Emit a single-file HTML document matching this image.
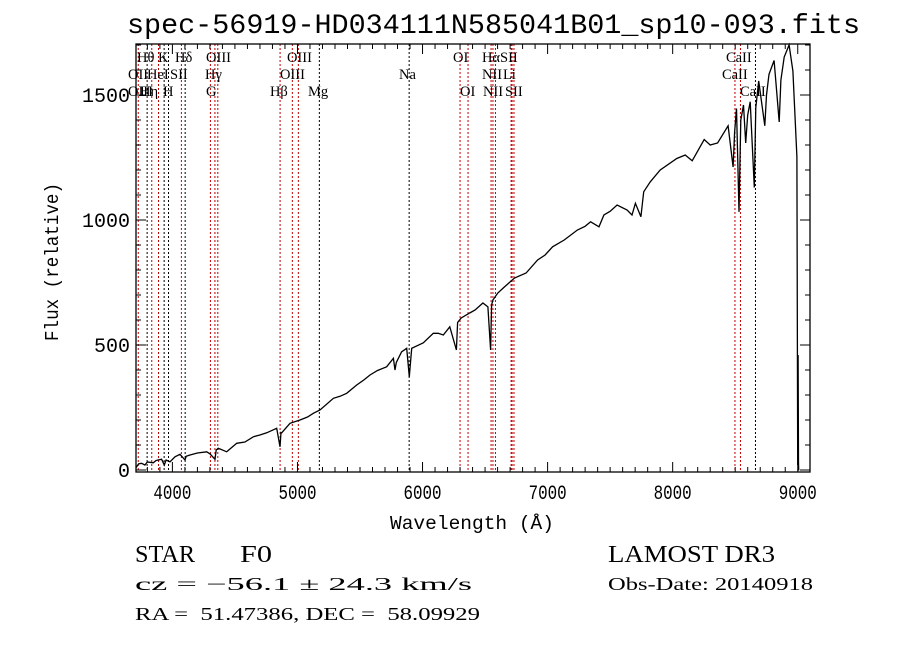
<!DOCTYPE html>
<html><head><meta charset="utf-8">
<style>
html,body{margin:0;padding:0;background:#fff;}
svg{display:block;}
text{font-family:"Liberation Serif","DejaVu Serif",serif;fill:#000;white-space:pre;}
.mono{font-family:"Liberation Mono","DejaVu Sans Mono",monospace;}
</style></head>
<body>
<svg id="chart" width="900" height="649" viewBox="0 0 900 649" xmlns="http://www.w3.org/2000/svg" xml:space="preserve">
<rect width="900" height="649" fill="#fff"/>
<text class="mono" x="127" y="33" font-size="28" textLength="733" lengthAdjust="spacingAndGlyphs">spec-56919-HD034111N585041B01_sp10-093.fits</text>
<g id="lines"></g>
<g id="labels"></g>
<path id="spec" fill="none" stroke="#000" stroke-width="1.3"/>
<g id="axes"></g>
<text class="mono" x="390" y="529" font-size="19" textLength="164" lengthAdjust="spacingAndGlyphs">Wavelength (Å)</text>
<text class="mono" transform="translate(58,341) rotate(-90)" font-size="19" textLength="158" lengthAdjust="spacingAndGlyphs">Flux (relative)</text>
<text x="135" y="562" font-size="24" textLength="60" lengthAdjust="spacingAndGlyphs">STAR</text>
<text x="240" y="562" font-size="24" textLength="32" lengthAdjust="spacingAndGlyphs">F0</text>
<text x="135" y="590" font-size="18" textLength="337" lengthAdjust="spacingAndGlyphs">cz = −56.1 ± 24.3 km/s</text>
<text x="135" y="620" font-size="18" textLength="345" lengthAdjust="spacingAndGlyphs">RA =  51.47386, DEC =  58.09929</text>
<text x="608" y="562" font-size="24" textLength="167" lengthAdjust="spacingAndGlyphs">LAMOST DR3</text>
<text x="608" y="590" font-size="18" textLength="205" lengthAdjust="spacingAndGlyphs">Obs-Date: 20140918</text>
</svg>
<script>
const wavelengths=[3709,3714,3730,3754,3780,3800,3847,3870,3914,3935,3950,3981,4021,4061,4101,4110,4141,4200,4274,4300,4341,4350,4367,4434,4514,4580,4647,4700,4754,4834,4860,4868,4874,4940,5020,5080,5127,5180,5287,5340,5394,5474,5530,5580,5640,5713,5767,5780,5790,5833,5873,5894,5913,6006,6086,6125,6166,6218,6271,6280,6309,6377,6420,6483,6523,6544,6552,6563,6602,6650,6735,6828,6920,6980,7040,7133,7238,7300,7344,7411,7450,7500,7556,7636,7675,7702,7746,7768,7821,7900,8033,8100,8156,8252,8300,8359,8443,8483,8495,8510,8530,8545,8566,8584,8600,8620,8653,8665,8688,8737,8750,8770,8811,8852,8865,8892,8931,8961,8993,9000,9003,9006,9008,9012];
const fluxes=[10,13,25,27,20,32,29,38,43,20,40,33,53,63,40,55,60,68,73,65,43,80,87,73,107,112,133,140,149,167,93,150,149,187,200,212,227,240,287,295,307,340,360,380,398,413,447,400,430,473,487,373,487,509,547,547,540,573,480,590,608,628,640,668,653,480,660,680,708,730,768,788,840,860,893,920,960,975,993,973,1020,1035,1060,1040,1020,1067,1013,1113,1153,1200,1246,1260,1237,1322,1300,1308,1377,1212,1350,1446,1033,1400,1460,1308,1420,1473,1130,1450,1556,1377,1500,1583,1638,1392,1560,1652,1700,1596,1253,20,460,30,0,0];
const xTicks=[4000,5000,6000,7000,8000,9000];
const yTicks=[0,500,1000,1500];
const lineWaves=[3727,3798,3835,3889,3934,3969,4072,4102,4304,4340,4363,4861,4959,5007,5175,5893,6300,6364,6548,6563,6583,6708,6716,6731,8498,8542,8662];
const lineColors=['r','k','r','r','k','k','r','k','r','r','r','r','r','r','k','k','r','r','r','r','r','r','r','r','r','r','k'];
const labelTexts=['Hθ','K','Hδ','OIII','OIII','OI','HαSII','CaII','OII','HeI','SII','Hγ','OIII','Na','NII','Li','CaII','OIII','Hη','H','G','Hβ','Mg','OI','NII','SII','CaII'];
const labelXs=[3717,3885,4021,4269,4916,6244,6475,8426,3645,3797,3981,4261,4860,5812,6475,6643,8394,3645,3741,3925,4269,4780,5084,6300,6483,6659,8538];
const labelRows=[1,1,1,1,1,1,1,1,2,2,2,2,2,2,2,2,2,3,3,3,3,3,3,3,3,3,3];

const L=136,R=810,T=44,B=472,XMIN=3709,XMAX=9098,YMIN=-8,YMAX=1704;
const sx=w=>L+(w-XMIN)/(XMAX-XMIN)*(R-L);
const sy=f=>B-(f-YMIN)/(YMAX-YMIN)*(B-T);
const NS='http://www.w3.org/2000/svg';
function mk(tag,attrs,parent){const e=document.createElementNS(NS,tag);for(const k in attrs)e.setAttribute(k,attrs[k]);parent.appendChild(e);return e;}

const gl=document.getElementById('lines');
lineWaves.forEach((w,i)=>{
  const x=sx(w);
  const e=mk('line',{x1:x,x2:x,y1:T,y2:B,stroke:lineColors[i]==='r'?'#c00000':'#000','stroke-width':1,'stroke-dasharray':'2,2'},gl);
  
  
});
const glab=document.getElementById('labels');
const rowY=[0,62,79,96];
labelTexts.forEach((t,i)=>{
  const e=mk('text',{x:sx(labelXs[i]),y:rowY[labelRows[i]],'font-size':14.5},glab);
  e.textContent=t;
  
  
});

let d='';
wavelengths.forEach((w,i)=>{const x=Math.max(L,Math.min(R,sx(w)));const y=Math.max(T,Math.min(B,sy(fluxes[i])));d+=(i?'L':'M')+x.toFixed(1)+' '+y.toFixed(1);});
document.getElementById('spec').setAttribute('d',d);

const ga=document.getElementById('axes');
mk('rect',{x:L,y:T,width:R-L,height:B-T,fill:'none',stroke:'#000','stroke-width':1.3},ga);
for(let w=3800;w<=9000;w+=100){
  const x=sx(w);const major=w%1000===0;const len=major?10:5;
  mk('line',{x1:x,x2:x,y1:B,y2:B-len,stroke:'#000'},ga);
  mk('line',{x1:x,x2:x,y1:T,y2:T+len,stroke:'#000'},ga);
}
xTicks.forEach(w=>{
  const e=mk('text',{x:sx(w),y:499,'font-size':20,'text-anchor':'middle',class:'mono',textLength:38,lengthAdjust:'spacingAndGlyphs'},ga);
  e.textContent=w;
  
  
});
for(let f=0;f<=1700;f+=100){
  const y=sy(f);const major=f%500===0;const len=major?10:5;
  mk('line',{x1:L,x2:L+len,y1:y,y2:y,stroke:'#000'},ga);
  mk('line',{x1:R,x2:R-len,y1:y,y2:y,stroke:'#000'},ga);
}
yTicks.forEach(f=>{
  const e=mk('text',{x:130,y:sy(f)+7,'font-size':20,'text-anchor':'end',class:'mono'},ga);
  e.textContent=f;
  
  
});
</script>
</body></html>
